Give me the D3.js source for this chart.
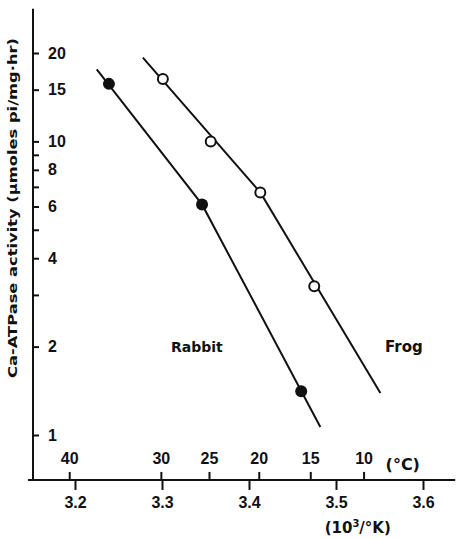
<!DOCTYPE html>
<html>
<head>
<meta charset="utf-8">
<script src="https://cdn.jsdelivr.net/npm/d3@7"></script>
<style>
  body { margin: 0; background: #fff; }
  svg { display: block; font-family: "DejaVu Sans", sans-serif; }
  .axis text { font-weight: bold; font-size: 16px; fill: #111; }
  .axis line, .axis path { stroke: #111; stroke-width: 2; }
</style>
</head>
<body>
<svg class="chart"></svg>
<script>
// values (x in 10^3/K, y in umoles Pi/mg.hr)
const rabbitX = [3.239, 3.346, 3.460];
const rabbitY = [15.7, 6.1, 1.41];
const frogX = [3.301, 3.356, 3.413, 3.475];
const frogY = [16.3, 10.0, 6.7, 3.21];

// fitted lines (two straight segments each, broken at the transition)
const rabbitLineX = [3.225, 3.346, 3.482];
const rabbitLineY = [17.6, 6.1, 1.065];
const frogLineX = [3.278, 3.413, 3.551];
const frogLineY = [19.3, 6.7, 1.39];

const yTicks = [1, 2, 3, 4, 5, 6, 7, 8, 9, 10, 15, 20];
const yLabels = [1, 2, 4, 6, 8, 10, 15, 20];
const kTicks = [3.2, 3.3, 3.4, 3.5, 3.6];
const cTicks = [40, 30, 25, 20, 15, 10];

const xExtent = [3.146, 3.637];
const yExtent = [0.703, 28.3];

function chart() {
    const width = 457, height = 539;

    const svg = d3.select(".chart")
        .attr("width", width)
        .attr("height", height);

    const x = d3.scaleLinear()
        .domain([3.2, 3.6])
        .range([75, 423]);

    const y = d3.scaleLog()
        .domain([1, 20])
        .range([435, 53]);

    const x0 = x(xExtent[0]), x1 = x(xExtent[1]);
    const yAxisX = 33, xAxisY = y(yExtent[0]);

    // axis lines
    svg.append("line")
        .attr("x1", x0).attr("x2", x1)
        .attr("y1", xAxisY).attr("y2", xAxisY)
        .attr("stroke", "#111").attr("stroke-width", 2);
    svg.append("line")
        .attr("x1", yAxisX).attr("x2", yAxisX)
        .attr("y1", xAxisY).attr("y2", y(yExtent[1]))
        .attr("stroke", "#111").attr("stroke-width", 2);

    // kelvin axis (ticks below)
    const kAxis = svg.append("g")
        .attr("class", "axis")
        .attr("transform", `translate(0,${xAxisY})`)
        .call(d3.axisBottom(x)
            .tickValues(kTicks)
            .tickSize(10)
            .tickPadding(7)
            .tickFormat(d3.format(".1f")));
    kAxis.select(".domain").remove();

    // celsius axis (ticks above)
    const cAxis = svg.append("g")
        .attr("class", "axis")
        .attr("transform", `translate(0,${xAxisY})`)
        .call(d3.axisTop(x)
            .tickValues(cTicks.map(c => 1000 / (c + 273.15)))
            .tickSize(8)
            .tickPadding(8)
            .tickFormat((d, i) => cTicks[i]));
    cAxis.select(".domain").remove();

    // y axis, ticks inside
    const yAxis = svg.append("g")
        .attr("class", "axis")
        .attr("transform", `translate(${yAxisX},0)`)
        .call(d3.axisRight(y)
            .tickValues(yTicks)
            .tickSize(6)
            .tickPadding(9)
            .tickFormat(d => yLabels.includes(d) ? d : ""));
    yAxis.select(".domain").remove();

    // unit labels
    svg.append("text")
        .attr("x", x(1000 / (10 + 273.15)) + 22)
        .attr("y", xAxisY - 16)
        .attr("dy", "0.35em")
        .attr("font-size", 16).attr("font-weight", "bold").attr("fill", "#111")
        .text("(°C)");

    const kt = svg.append("text")
        .attr("x", x(3.525))
        .attr("y", 533)
        .attr("text-anchor", "middle")
        .attr("font-size", 15).attr("font-weight", "bold").attr("fill", "#111");
    kt.append("tspan").text("(10");
    kt.append("tspan").attr("font-size", 10).attr("dy", -6).text("3");
    kt.append("tspan").attr("dy", 6).text("/°K)");

    svg.append("text")
        .attr("transform", "translate(17,208) rotate(-90)")
        .attr("text-anchor", "middle")
        .attr("font-size", 13).attr("font-weight", "bold").attr("fill", "#111")
        .attr("textLength", 340).attr("lengthAdjust", "spacingAndGlyphs")
        .text("Ca-ATPase activity (μmoles pi/mg·hr)");

    // lines
    const line = d3.line()
        .x(d => x(d[0]))
        .y(d => y(d[1]));

    svg.append("path")
        .datum(d3.zip(rabbitLineX, rabbitLineY))
        .attr("fill", "none")
        .attr("stroke", "#111")
        .attr("stroke-width", 2)
        .attr("d", line);

    svg.append("path")
        .datum(d3.zip(frogLineX, frogLineY))
        .attr("fill", "none")
        .attr("stroke", "#111")
        .attr("stroke-width", 2)
        .attr("d", line);

    // points
    svg.selectAll(".rabbit")
        .data(d3.zip(rabbitX, rabbitY))
        .join("circle")
        .attr("class", "rabbit")
        .attr("cx", d => x(d[0]))
        .attr("cy", d => y(d[1]))
        .attr("r", 6)
        .attr("fill", "#111");

    svg.selectAll(".frog")
        .data(d3.zip(frogX, frogY))
        .join("circle")
        .attr("class", "frog")
        .attr("cx", d => x(d[0]))
        .attr("cy", d => y(d[1]))
        .attr("r", 5)
        .attr("fill", "#fff")
        .attr("stroke", "#111")
        .attr("stroke-width", 2);

    // series labels
    svg.append("text")
        .attr("x", x(3.34)).attr("y", y(2))
        .attr("dy", "0.35em")
        .attr("text-anchor", "middle")
        .attr("font-size", 14).attr("font-weight", "bold").attr("fill", "#111")
        .text("Rabbit");

    svg.append("text")
        .attr("x", x(3.578)).attr("y", y(2))
        .attr("dy", "0.35em")
        .attr("text-anchor", "middle")
        .attr("font-size", 15).attr("font-weight", "bold").attr("fill", "#111")
        .text("Frog");
}

chart();
</script>
</body>
</html>
